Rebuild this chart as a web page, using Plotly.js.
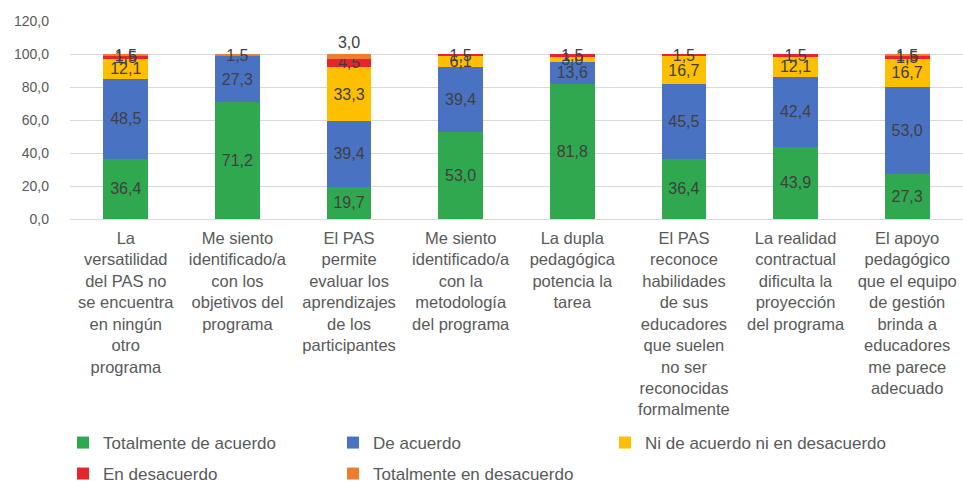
<!DOCTYPE html>
<html>
<head>
<meta charset="utf-8">
<script src="https://cdn.plot.ly/plotly-3.0.1.min.js"></script>
<style>
  body { margin: 0; background: #fff; }
  #chart { width: 963px; height: 484px; }
</style>
</head>
<body>
<div id="chart"></div>
<script>
// categorías (eje X)
var categorias = [
    "La<br>versatilidad<br>del PAS no<br>se encuentra<br>en ningún<br>otro<br>programa",
    "Me siento<br>identificado/a<br>con los<br>objetivos del<br>programa",
    "El PAS<br>permite<br>evaluar los<br>aprendizajes<br>de los<br>participantes",
    "Me siento<br>identificado/a<br>con la<br>metodología<br>del programa",
    "La dupla<br>pedagógica<br>potencia la<br>tarea",
    "El PAS<br>reconoce<br>habilidades<br>de sus<br>educadores<br>que suelen<br>no ser<br>reconocidas<br>formalmente",
    "La realidad<br>contractual<br>dificulta la<br>proyección<br>del programa",
    "El apoyo<br>pedagógico<br>que el equipo<br>de gestión<br>brinda a<br>educadores<br>me parece<br>adecuado"
];

// porcentajes por respuesta
var totalmenteDeAcuerdo = [36.4, 71.2, 19.7, 53.0, 81.8, 36.4, 43.9, 27.3];
var deAcuerdo = [48.5, 27.3, 39.4, 39.4, 13.6, 45.5, 42.4, 53.0];
var niNi = [12.1, 0.0, 33.3, 6.1, 3.0, 16.7, 12.1, 16.7];
var enDesacuerdo = [1.5, 0.0, 4.5, 1.5, 1.5, 1.5, 1.5, 1.5];
var totalmenteEnDesacuerdo = [1.5, 1.5, 3.0, 0.0, 0.0, 0.0, 0.0, 1.5];

var fuente = "Liberation Sans, Arial, sans-serif";

function serie(nombre, valores, color, leyenda, posiciones) {
    return {
        x: categorias,
        y: valores,
        name: nombre,
        type: "bar",
        marker: { color: color },
        texttemplate: "%{y:.1f}",
        textposition: posiciones || "inside",
        insidetextanchor: "middle",
        constraintext: "none",
        textfont: { family: fuente, size: 16, color: "#404040" },
        outsidetextfont: { family: fuente, size: 16, color: "#404040" },
        cliponaxis: false,
        legend: leyenda,
        hoverinfo: "y+name"
    };
}

var data = [
    serie("Totalmente de acuerdo", totalmenteDeAcuerdo, "#2fa84f", "legend"),
    serie("De acuerdo", deAcuerdo, "#4a72c2", "legend2"),
    serie("Ni de acuerdo ni en desacuerdo", niNi, "#fdbf00", "legend3"),
    serie("En desacuerdo", enDesacuerdo, "#e5252a", "legend4"),
    serie("Totalmente en desacuerdo", totalmenteEnDesacuerdo, "#ed7d31", "legend5",
        ["inside", "inside", "outside", "inside", "inside", "inside", "inside", "inside"])
];

// una leyenda por entrada, en dos filas
function leyenda(px, py) {
    return {
        orientation: "h",
        xref: "container", yref: "container",
        x: px / 963, xanchor: "left",
        y: 1 - py / 484, yanchor: "middle",
        font: { family: fuente, size: 17, color: "#595959" },
        bgcolor: "rgba(0,0,0,0)"
    };
}

var layout = {
    width: 963,
    height: 484,
    barmode: "stack",
    bargap: 0.6,
    separators: ",.",
    margin: { l: 70, r: 0, t: 21, b: 265 },
    paper_bgcolor: "#ffffff",
    plot_bgcolor: "#ffffff",
    font: { family: fuente, size: 16, color: "#595959" },
    xaxis: {
        tickfont: { family: fuente, size: 16.5, color: "#595959" },
        tickangle: 0,
        showline: true,
        linecolor: "#d9d9d9",
        ticks: "",
        ticklabelstandoff: 4
    },
    yaxis: {
        range: [0, 120],
        dtick: 20,
        tickformat: ".1f",
        gridcolor: "#d9d9d9",
        zeroline: false,
        tickfont: { family: fuente, size: 14, color: "#595959" },
        ticklabelstandoff: 20
    },
    legend: leyenda(63, 443),
    legend2: leyenda(333, 443),
    legend3: leyenda(605, 443),
    legend4: leyenda(63, 474),
    legend5: leyenda(333, 474),
    showlegend: true
};

Plotly.newPlot("chart", data, layout, { displayModeBar: false, staticPlot: true });
</script>
</body>
</html>
